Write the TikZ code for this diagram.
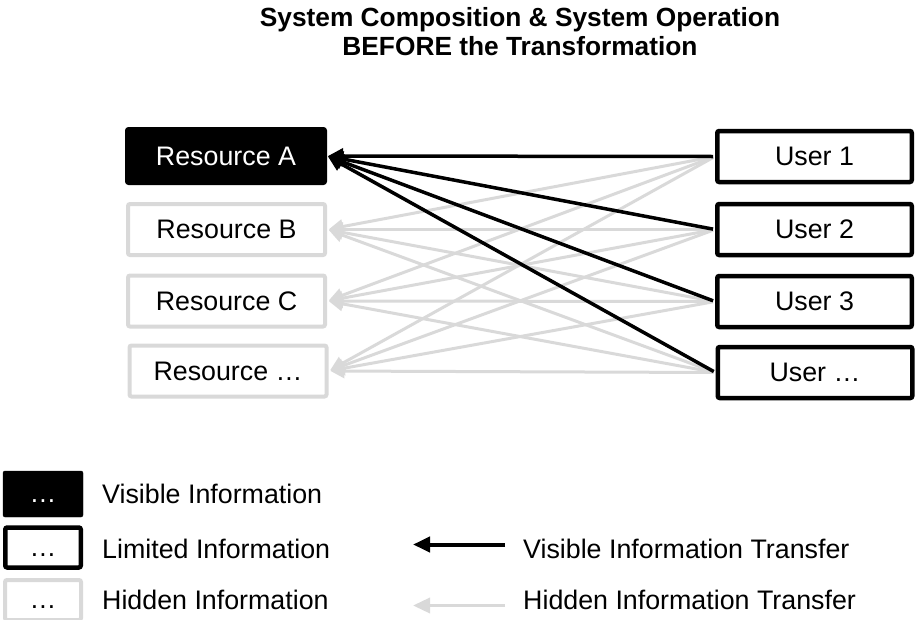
\documentclass[tikz,border=0pt]{standalone}
\usepackage{fontspec}
\setmainfont{Liberation Sans}
\usetikzlibrary{arrows.meta}
\definecolor{hidgray}{HTML}{D9D9D9}
\newcommand\nodefont{\fontsize{26.8}{30}\selectfont}
\newcommand\legfont{\fontsize{26.8}{30}\selectfont}
\newcommand\titlefont{\fontsize{26.3}{29}\selectfont\bfseries}
\tikzset{
  visbox/.style={fill=black, draw=black, text=white, line width=1pt, rounded corners=3pt,
    inner sep=0pt, minimum width=201pt, minimum height=57pt, font=\nodefont},
  hidbox/.style={fill=white, draw=hidgray, line width=4pt, rounded corners=2pt,
    inner sep=0pt, minimum width=197pt, minimum height=51pt, font=\nodefont},
  limbox/.style={fill=white, draw=black, line width=4.5pt, rounded corners=2pt,
    inner sep=0pt, minimum width=194.5pt, minimum height=51pt, font=\nodefont},
  hidarrow/.style={draw=hidgray, line width=3pt, shorten >=2pt, shorten <=2pt,
    -{Triangle[length=14pt,width=14pt]}},
  visarrow/.style={draw=black, line width=3.5pt, shorten >=1pt, shorten <=2pt,
    -{Triangle[length=15pt,width=15pt]}},
  legtext/.style={anchor=west, inner sep=0pt, font=\legfont},
  % the dots sit on a baseline about 8pt below the box centre
  legbox/.style={rounded corners=2pt, inner sep=0pt, font=\legfont,
    text height=17pt, text depth=0pt},
}
\begin{document}
\begin{tikzpicture}[x=1pt,y=-1pt]
  \useasboundingbox (0,0) rectangle (916,619);

  % title
  \node[font=\titlefont, align=center] (title) at (520,32)
    {System Composition \& System Operation\\BEFORE the Transformation};

  % resources
  \node[visbox] (resA) at (226,156) {Resource A};
  \node[hidbox] (resB) at (226.5,229.5) {Resource B};
  \node[hidbox] (resC) at (226.5,301) {Resource C};
  \node[hidbox] (resD) at (228,371) {Resource …};

  % users
  \node[limbox] (usr1) at (814.5,156.5) {User 1};
  \node[limbox] (usr2) at (814.5,229.5) {User 2};
  \node[limbox] (usr3) at (814.5,301.5) {User 3};
  \node[limbox] (usr4) at (815,372.5) {User …};

  % hidden transfers from every user to the hidden resources
  \foreach \u in {usr1,usr2,usr3,usr4}
    \foreach \r in {resB,resC,resD}
      \draw[hidarrow] (\u.west) -- (\r.east);

  % visible transfers to resource A
  \foreach \u in {usr1,usr2,usr3,usr4}
    \draw[visarrow] (\u.west) -- (resA.east);

  % legend: boxes
  \node[legbox, fill=black, draw=black, text=white, minimum width=80pt, minimum height=46pt]
    (lgvis) at (43,494) {…};
  \node[legbox, fill=white, draw=black, line width=4.5pt, minimum width=75.5pt,
    minimum height=40pt] (lglim) at (43,547.5) {…};
  \node[legbox, fill=white, draw=hidgray, line width=4pt, minimum width=76pt,
    minimum height=40pt] (lghid) at (43,600) {…};

  \node[legtext] (tvis) at (102,494) {Visible Information};
  \node[legtext] (tlim) at (102,549) {Limited Information};
  \node[legtext] (thid) at (102,600) {Hidden Information};

  % legend: arrows
  \node[legtext] (tvtr) at (523,549) {Visible Information Transfer};
  \node[legtext] (thtr) at (523,600) {Hidden Information Transfer};
  \coordinate (av0) at (505,544.5);
  \coordinate (av1) at (413,544.5);
  \coordinate (ah0) at (505,605.5);
  \coordinate (ah1) at (413,605.5);
  \draw[draw=black, line width=4pt, -{Triangle[length=17pt,width=15pt]}] (av0) -- (av1);
  \draw[draw=hidgray, line width=3.5pt, -{Triangle[length=17pt,width=15pt]}] (ah0) -- (ah1);
\end{tikzpicture}
\end{document}
